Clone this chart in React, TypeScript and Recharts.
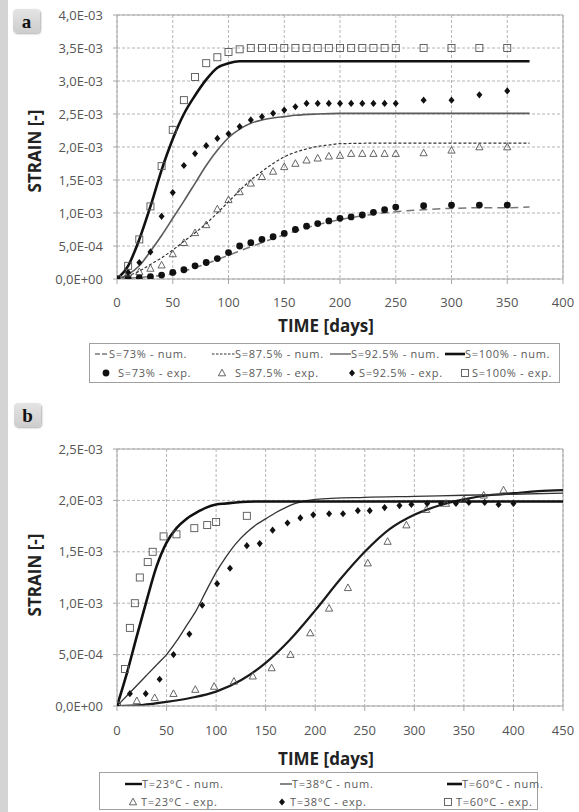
import React from 'react';
import { ComposedChart, Line, Scatter, XAxis, YAxis, CartesianGrid, ReferenceLine } from 'recharts';

const FONT = '"Open Sans", "Liberation Sans", sans-serif';

// ---------- Chart a (strain in units of 1e-3) ----------
const aXTicks = [0, 50, 100, 150, 200, 250, 300, 350, 400];
const aYTicks = [0, 0.5, 1, 1.5, 2, 2.5, 3, 3.5, 4];

const s73NumDays = [0, 25, 50, 75, 100, 125, 150, 175, 200, 225, 250, 275, 300, 325, 350, 370];
const s73NumStrain = [0, 0.03, 0.08, 0.2, 0.36, 0.52, 0.67, 0.8, 0.9, 0.97, 1.02, 1.05, 1.07, 1.08, 1.08, 1.09];

const s875NumDays = [0, 10, 20, 30, 40, 50, 60, 70, 80, 90, 100, 110, 120, 130, 140, 150, 160, 170, 180, 190, 200, 250, 370];
const s875NumStrain = [0, 0.05, 0.12, 0.22, 0.32, 0.44, 0.57, 0.7, 0.84, 1.0, 1.17, 1.34, 1.5, 1.63, 1.75, 1.85, 1.92, 1.97, 2.01, 2.03, 2.05, 2.06, 2.06];

const s925NumDays = [0, 10, 20, 30, 40, 50, 60, 70, 80, 90, 100, 110, 120, 130, 140, 150, 160, 180, 200, 370];
const s925NumStrain = [0, 0.07, 0.2, 0.42, 0.66, 0.92, 1.18, 1.45, 1.72, 1.95, 2.14, 2.27, 2.36, 2.41, 2.44, 2.46, 2.48, 2.5, 2.51, 2.51];

const s100NumDays = [0, 10, 20, 30, 40, 50, 60, 70, 80, 90, 100, 110, 120, 370];
const s100NumStrain = [0, 0.2, 0.6, 1.1, 1.65, 2.12, 2.5, 2.78, 3.02, 3.2, 3.27, 3.3, 3.3, 3.3];

const aExpDays = [0, 10, 20, 30, 40, 50, 60, 70, 80, 90, 100, 110, 120, 130, 140, 150, 160, 170, 180, 190, 200, 210, 220, 230, 240, 250, 275, 300, 325, 350];
const s73Exp = [0, 0.01, 0.02, 0.035, 0.06, 0.1, 0.14, 0.2, 0.25, 0.31, 0.4, 0.5, 0.55, 0.6, 0.64, 0.69, 0.75, 0.8, 0.84, 0.88, 0.92, 0.94, 0.97, 1.01, 1.05, 1.09, 1.11, 1.12, 1.12, 1.12];
const s875Exp = [0, 0.09, 0.11, 0.16, 0.21, 0.38, 0.55, 0.7, 0.82, 1.06, 1.2, 1.32, 1.45, 1.55, 1.63, 1.7, 1.75, 1.8, 1.83, 1.86, 1.87, 1.9, 1.9, 1.9, 1.9, 1.9, 1.91, 1.95, 2.0, 2.0];
const s925Exp = [0, 0.1, 0.25, 0.41, 0.95, 1.31, 1.72, 1.9, 2.02, 2.13, 2.2, 2.31, 2.41, 2.46, 2.51, 2.56, 2.61, 2.66, 2.66, 2.66, 2.66, 2.66, 2.66, 2.66, 2.66, 2.66, 2.71, 2.71, 2.79, 2.85];
const s100Exp = [0, 0.2, 0.6, 1.1, 1.71, 2.26, 2.71, 3.06, 3.27, 3.36, 3.44, 3.48, 3.5, 3.5, 3.5, 3.5, 3.5, 3.5, 3.5, 3.5, 3.5, 3.5, 3.5, 3.5, 3.5, 3.5, 3.5, 3.5, 3.5, 3.5];

// ---------- Chart b ----------
const bXTicks = [0, 50, 100, 150, 200, 250, 300, 350, 400, 450];
const bYTicks = [0, 0.5, 1, 1.5, 2, 2.5];

const t23NumDays = [0, 25, 50, 75, 100, 125, 150, 175, 200, 225, 250, 275, 300, 325, 350, 375, 400, 425, 450];
const t23NumStrain = [0, 0.01, 0.04, 0.08, 0.14, 0.25, 0.42, 0.65, 0.93, 1.23, 1.5, 1.72, 1.86, 1.95, 2.01, 2.05, 2.07, 2.09, 2.1];

const t38NumDays = [0, 10, 20, 30, 40, 50, 60, 70, 80, 90, 100, 110, 120, 130, 140, 150, 160, 170, 180, 200, 250, 300, 350, 450];
const t38NumStrain = [0, 0.1, 0.2, 0.3, 0.4, 0.5, 0.63, 0.78, 0.93, 1.12, 1.3, 1.45, 1.58, 1.68, 1.76, 1.82, 1.88, 1.93, 1.97, 2.01, 2.03, 2.04, 2.05, 2.07];

const t60NumDays = [0, 10, 20, 30, 40, 50, 60, 70, 80, 90, 100, 110, 120, 140, 450];
const t60NumStrain = [0, 0.32, 0.68, 1.03, 1.36, 1.59, 1.73, 1.82, 1.88, 1.93, 1.96, 1.97, 1.98, 1.99, 1.99];

const t23ExpDays = [0, 20, 38, 57, 79, 98, 118, 137, 156, 175, 195, 214, 233, 253, 273, 292, 312, 332, 350, 370, 390];
const t23ExpStrain = [0, 0.05, 0.08, 0.12, 0.16, 0.19, 0.24, 0.29, 0.37, 0.5, 0.71, 0.95, 1.15, 1.39, 1.6, 1.76, 1.91, 1.97, 2.01, 2.05, 2.1];

const t38ExpDays = [0, 13, 29, 43, 57, 73, 86, 101, 114, 131, 144, 157, 172, 185, 198, 214, 228, 243, 255, 270, 285, 297, 313, 327, 342, 355, 371, 385, 400];
const t38ExpStrain = [0, 0.12, 0.12, 0.26, 0.5, 0.7, 0.98, 1.19, 1.34, 1.56, 1.58, 1.71, 1.78, 1.83, 1.86, 1.87, 1.87, 1.9, 1.9, 1.93, 1.95, 1.96, 1.97, 1.97, 1.97, 1.98, 1.98, 1.96, 1.97];

const t60ExpDays = [0, 8, 13, 18, 23, 31, 36, 47, 60, 78, 91, 100, 131];
const t60ExpStrain = [0, 0.36, 0.76, 1.0, 1.25, 1.4, 1.5, 1.65, 1.67, 1.73, 1.76, 1.79, 1.85];

const zip = (xs: number[], ys: number[]) => xs.map((x, i) => ({ x, y: ys[i] }));

const fmtY = (v: number) => {
  if (v === 0) return '0,0E+00';
  const s = (v * 1e-3).toExponential(1);
  const [m, e] = s.split('e');
  const n = parseInt(e, 10);
  return m.replace('.', ',') + 'E' + (n < 0 ? '-' : '+') + String(Math.abs(n)).padStart(2, '0');
};

const Dot = (p: any) => <circle cx={p.cx} cy={p.cy} r={3.4} fill="#111" />;
const Tri = (p: any) => (
  <path d={`M${p.cx},${p.cy - 3.8}L${p.cx + 3.6},${p.cy + 2.8}L${p.cx - 3.6},${p.cy + 2.8}Z`} fill="none" stroke="#555" strokeWidth={0.9} />
);
const Dia = (p: any) => (
  <path d={`M${p.cx},${p.cy - 3.6}L${p.cx + 3},${p.cy}L${p.cx},${p.cy + 3.6}L${p.cx - 3},${p.cy}Z`} fill="#111" />
);
const Sq = (p: any) => (
  <rect x={p.cx - 3.5} y={p.cy - 3.5} width={7} height={7} fill="none" stroke="#555" strokeWidth={0.9} />
);

const tickStyle = { fill: '#555', fontSize: 13, fontFamily: FONT };
const AX = '#a8a8a8';

const AxisTitle = ({ text, x, y, rotate }: { text: string; x: number; y: number; rotate?: boolean }) => (
  <div
    style={{
      position: 'absolute', left: x, top: y, transform: `translate(-50%, -50%)${rotate ? ' rotate(-90deg)' : ''}`,
      fontFamily: FONT, fontWeight: 700, fontSize: 17, color: '#222', whiteSpace: 'nowrap', lineHeight: 1,
    }}
  >
    {text}
  </div>
);

const PanelTag = ({ text, x, y }: { text: string; x: number; y: number }) => (
  <div
    style={{
      position: 'absolute', left: x, top: y, width: 27, height: 24, borderRadius: 4,
      background: 'linear-gradient(#e4e4e4, #cdcdcd)', boxShadow: '1px 1px 2px #b0b0b0',
      fontFamily: '"Liberation Serif", serif', fontWeight: 700, fontSize: 19, color: '#111',
      display: 'flex', alignItems: 'center', justifyContent: 'center', lineHeight: 1,
    }}
  >
    {text}
  </div>
);

const LT = { fontFamily: FONT, fontSize: 11, fill: '#5a5a5a', letterSpacing: 0.7 } as const;

const Legends = () => (
  <svg width={579} height={812} style={{ position: 'absolute', left: 0, top: 0, pointerEvents: 'none' }}>
    <rect x={89.5} y={343.5} width={470} height={39} fill="#fff" stroke="#a0a0a0" />
    <line x1={95} x2={108} y1={354} y2={354} stroke="#777" strokeWidth={1.5} strokeDasharray="5 2" />
    <text x={109} y={358} {...LT}>S=73% - num.</text>
    <line x1={212} x2={235} y1={354} y2={354} stroke="#333" strokeWidth={1.2} strokeDasharray="2.5 1.5" />
    <text x={235} y={358} {...LT}>S=87.5% - num.</text>
    <line x1={330} x2={351} y1={354} y2={354} stroke="#777" strokeWidth={1.6} />
    <text x={351} y={358} {...LT}>S=92.5% - num.</text>
    <line x1={445} x2={465} y1={354} y2={354} stroke="#111" strokeWidth={2.6} />
    <text x={465} y={358} {...LT}>S=100% - num.</text>
    <Dot cx={106} cy={373} />
    <text x={118} y={377} {...LT}>S=73% - exp.</text>
    <Tri cx={222} cy={373} />
    <text x={235} y={377} {...LT}>S=87.5% - exp.</text>
    <Dia cx={352} cy={373} />
    <text x={359} y={377} {...LT}>S=92.5% - exp.</text>
    <Sq cx={465} cy={373} />
    <text x={472} y={377} {...LT}>S=100% - exp.</text>

    <rect x={99.5} y={772.5} width={438} height={37} fill="#fff" stroke="#a0a0a0" />
    <line x1={125} x2={142} y1={784} y2={784} stroke="#111" strokeWidth={2.4} />
    <text x={142} y={788} {...LT}>T=23°C - num.</text>
    <line x1={280} x2={292} y1={784} y2={784} stroke="#444" strokeWidth={1.3} />
    <text x={292} y={788} {...LT}>T=38°C - num.</text>
    <line x1={447} x2={462} y1={784} y2={784} stroke="#111" strokeWidth={2.6} />
    <text x={462} y={788} {...LT}>T=60°C - num.</text>
    <Tri cx={133} cy={802} />
    <text x={141} y={806} {...LT}>T=23°C - exp.</text>
    <Dia cx={282} cy={802} />
    <text x={290} y={806} {...LT}>T=38°C - exp.</text>
    <Sq cx={448} cy={802} />
    <text x={456} y={806} {...LT}>T=60°C - exp.</text>
  </svg>
);

const ChartA = () => (
  <div style={{ position: 'absolute', left: 0, top: 0 }}>
    <ComposedChart width={579} height={340} margin={{ top: 15, right: 16, bottom: 11, left: 17 }}>
      <CartesianGrid stroke="#b4b4b4" strokeDasharray="3 2" />
      <XAxis type="number" dataKey="x" domain={[0, 400]} ticks={aXTicks} tick={tickStyle} tickSize={5} tickMargin={14} stroke={AX} height={50} allowDataOverflow />
      <YAxis type="number" domain={[0, 4]} ticks={aYTicks} tickFormatter={fmtY} tick={tickStyle} width={100} tickSize={4} tickMargin={10} stroke={AX} allowDataOverflow />
      <ReferenceLine y={4} stroke={AX} />
      <ReferenceLine x={400} stroke={AX} />
      <Line data={zip(s73NumDays, s73NumStrain)} dataKey="y" type="monotone" stroke="#777" strokeWidth={1.5} strokeDasharray="8 5" dot={false} isAnimationActive={false} />
      <Line data={zip(s875NumDays, s875NumStrain)} dataKey="y" type="monotone" stroke="#333" strokeWidth={1.2} strokeDasharray="3 2" dot={false} isAnimationActive={false} />
      <Line data={zip(s925NumDays, s925NumStrain)} dataKey="y" type="monotone" stroke="#5a5a5a" strokeWidth={1.6} dot={false} isAnimationActive={false} />
      <Line data={zip(s100NumDays, s100NumStrain)} dataKey="y" type="monotone" stroke="#111" strokeWidth={2.6} dot={false} isAnimationActive={false} />
      <Scatter data={zip(aExpDays, s73Exp)} dataKey="y" shape={Dot} isAnimationActive={false} />
      <Scatter data={zip(aExpDays, s875Exp)} dataKey="y" shape={Tri} isAnimationActive={false} />
      <Scatter data={zip(aExpDays, s925Exp)} dataKey="y" shape={Dia} isAnimationActive={false} />
      <Scatter data={zip(aExpDays, s100Exp)} dataKey="y" shape={Sq} isAnimationActive={false} />
    </ComposedChart>
  </div>
);

const ChartB = () => (
  <div style={{ position: 'absolute', left: 0, top: 400 }}>
    <ComposedChart width={579} height={380} margin={{ top: 49, right: 16, bottom: 24, left: 17 }}>
      <CartesianGrid stroke="#b4b4b4" strokeDasharray="3 2" />
      <XAxis type="number" dataKey="x" domain={[0, 450]} ticks={bXTicks} tick={tickStyle} tickSize={5} tickMargin={15} stroke={AX} height={50} allowDataOverflow />
      <YAxis type="number" domain={[0, 2.5]} ticks={bYTicks} tickFormatter={fmtY} tick={tickStyle} width={100} tickSize={4} tickMargin={10} stroke={AX} allowDataOverflow />
      <ReferenceLine y={2.5} stroke={AX} />
      <ReferenceLine x={450} stroke={AX} />
      <Line data={zip(t23NumDays, t23NumStrain)} dataKey="y" type="monotone" stroke="#1a1a1a" strokeWidth={2.2} dot={false} isAnimationActive={false} />
      <Line data={zip(t38NumDays, t38NumStrain)} dataKey="y" type="monotone" stroke="#333" strokeWidth={1.3} dot={false} isAnimationActive={false} />
      <Line data={zip(t60NumDays, t60NumStrain)} dataKey="y" type="monotone" stroke="#111" strokeWidth={2.6} dot={false} isAnimationActive={false} />
      <Scatter data={zip(t23ExpDays, t23ExpStrain)} dataKey="y" shape={Tri} isAnimationActive={false} />
      <Scatter data={zip(t38ExpDays, t38ExpStrain)} dataKey="y" shape={Dia} isAnimationActive={false} />
      <Scatter data={zip(t60ExpDays, t60ExpStrain)} dataKey="y" shape={Sq} isAnimationActive={false} />
    </ComposedChart>
  </div>
);

export default function App() {
  return (
    <div style={{ position: 'absolute', left: 0, top: 0, width: 579, height: 812, background: '#fff', overflow: 'hidden' }}>
      <div style={{ position: 'absolute', left: 0, top: 0, width: 8, height: 812, background: '#d4d4d4' }} />
      <ChartA />
      <ChartB />
      <Legends />
      <PanelTag text="a" x={13} y={9} />
      <PanelTag text="b" x={14} y={403} />
      <AxisTitle text="STRAIN [-]" x={34} y={151} rotate />
      <AxisTitle text="TIME [days]" x={326} y={325} />
      <AxisTitle text="STRAIN [-]" x={34} y={575} rotate />
      <AxisTitle text="TIME [days]" x={326} y={758} />
    </div>
  );
}
